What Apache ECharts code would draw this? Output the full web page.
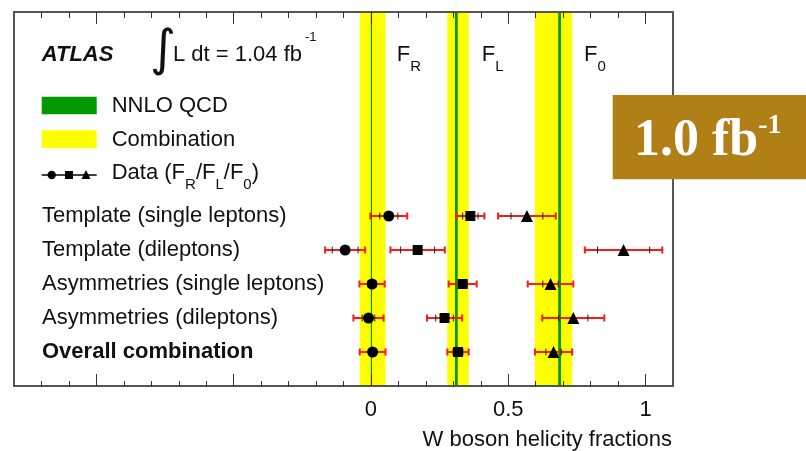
<!DOCTYPE html>
<html>
<head>
<meta charset="utf-8">
<script src="https://cdn.jsdelivr.net/npm/echarts@6/dist/echarts.min.js"></script>
<style>
  html, body { margin: 0; padding: 0; background: #fff; }
  #chart { width: 806px; height: 451px; }
</style>
</head>
<body>
<div id="chart"></div>
<script>
// Measurements of the W boson helicity fractions (ATLAS, 1.04 fb^-1)
const rowLabels = [
  'Template (single leptons)',
  'Template (dileptons)',
  'Asymmetries (single leptons)',
  'Asymmetries (dileptons)',
  'Overall combination'
];
const rowSlots = [5, 4, 3, 2, 1];

// F_R: value, statistical error, total error
const fR     = [0.065, -0.094, 0.004, -0.009, 0.006];
const fRStat = [0.033,  0.047, 0.015,  0.023, 0.012];
const fRTot  = [0.067,  0.073, 0.046,  0.055, 0.047];

// F_L
const fL     = [0.362, 0.170, 0.334, 0.268, 0.317];
const fLStat = [0.028, 0.062, 0.015, 0.032, 0.018];
const fLTot  = [0.051, 0.099, 0.051, 0.064, 0.039];

// F_0
const f0     = [0.568, 0.920, 0.654, 0.737, 0.665];
const f0Stat = [0.058, 0.095, 0.028, 0.053, 0.028];
const f0Tot  = [0.105, 0.141, 0.083, 0.113, 0.068];

// NNLO QCD predictions (F_R, F_L, F_0) and their uncertainties
const nnlo    = [0.0017, 0.311, 0.687];
const nnloErr = [0.0001, 0.005, 0.005];

// Axis ticks and labels
const majorTicks = [-1, -0.5, 0, 0.5, 1];
const minorTicks = [-1.2, -1.1, -0.9, -0.8, -0.7, -0.6, -0.4, -0.3, -0.2, -0.1,
                    0.1, 0.2, 0.3, 0.4, 0.6, 0.7, 0.8, 0.9];
const tickLabelValues = [0, 0.5, 1];
const tickLabels = ['0', '0.5', '1'];

const X_MIN = -1.3, X_MAX = 1.1, Y_MIN = 0, Y_MAX = 11;
const SANS = 'Liberation Sans, Arial, Helvetica, sans-serif';
const SERIF = 'Liberation Serif, Times New Roman, serif';
const INK = '#111';
const FRAME = '#555';

const combIdx = rowLabels.length - 1;
const bandData = [
  [fR[combIdx], fRTot[combIdx]],
  [fL[combIdx], fLTot[combIdx]],
  [f0[combIdx], f0Tot[combIdx]]
];
const nnloData = nnlo.map((v, i) => [v, nnloErr[i]]);

function points(vals, stat, tot) {
  return vals.map((v, i) => [v, rowSlots[i], stat[i], tot[i]]);
}

// Vertical band spanning the whole plot height
function renderBand(color, minPx) {
  return function (params, api) {
    const v = api.value(0), e = api.value(1);
    const p0 = api.coord([v - e, Y_MAX]);
    const p1 = api.coord([v + e, Y_MIN]);
    let w = p1[0] - p0[0];
    let x = p0[0];
    if (w < minPx) { x = (p0[0] + p1[0]) / 2 - minPx / 2; w = minPx; }
    return { type: 'rect', shape: { x: x, y: p0[1], width: w, height: p1[1] - p0[1] },
             style: { fill: color } };
  };
}

// Horizontal error bar: total error in red with caps, statistical part marked by black ticks
function renderErr(params, api) {
  const v = api.value(0), y = api.value(1), s = api.value(2), t = api.value(3);
  const a = api.coord([v - t, y]), b = api.coord([v + t, y]);
  const sa = api.coord([v - s, y]), sb = api.coord([v + s, y]);
  const red = { stroke: '#ff1a1a', lineWidth: 2 };
  const blk = { stroke: '#222', lineWidth: 1 };
  const h = 3.5;
  return {
    type: 'group',
    children: [
      { type: 'line', shape: { x1: a[0], y1: a[1], x2: b[0], y2: b[1] }, style: red },
      { type: 'line', shape: { x1: a[0], y1: a[1] - h, x2: a[0], y2: a[1] + h }, style: red },
      { type: 'line', shape: { x1: b[0], y1: b[1] - h, x2: b[0], y2: b[1] + h }, style: red },
      { type: 'line', shape: { x1: sa[0], y1: sa[1] - h, x2: sa[0], y2: sa[1] + h }, style: blk },
      { type: 'line', shape: { x1: sb[0], y1: sb[1] - h, x2: sb[0], y2: sb[1] + h }, style: blk }
    ]
  };
}

const gridBox = { left: 14, right: 133, top: 12, bottom: 64 };

function xAxisDef(gridIndex, position, ticks, len, withLine, withLabels) {
  return {
    type: 'value', gridIndex: gridIndex, position: position, min: X_MIN, max: X_MAX, z: 10,
    axisLine: { show: withLine, onZero: false, lineStyle: { color: FRAME, width: 2 } },
    axisTick: { show: true, inside: true, length: len, customValues: ticks,
                lineStyle: { color: '#333', width: 1 } },
    splitLine: { show: false },
    axisLabel: withLabels ? {
      show: true, customValues: tickLabelValues, margin: 13,
      formatter: v => tickLabels[tickLabelValues.indexOf(v)],
      fontFamily: SANS, fontSize: 22, color: INK
    } : { show: false },
    name: withLabels ? 'W boson helicity fractions' : '',
    nameLocation: 'end', nameGap: -1,
    nameTextStyle: { fontFamily: SANS, fontSize: 22, color: INK, align: 'right',
                     verticalAlign: 'top', padding: [43, 0, 0, 0] }
  };
}

function yAxisDef(gridIndex, position, withLine, withLabels) {
  return {
    type: 'value', gridIndex: gridIndex, position: position, min: Y_MIN, max: Y_MAX, z: 10,
    axisLine: { show: withLine, onZero: false, lineStyle: { color: FRAME, width: 2 } },
    axisTick: { show: false },
    splitLine: { show: false },
    axisLabel: withLabels ? {
      show: true, inside: true, margin: 28, customValues: rowSlots,
      formatter: v => {
        const i = rowSlots.indexOf(v);
        return i === combIdx ? '{b|' + rowLabels[i] + '}' : rowLabels[i];
      },
      fontFamily: SANS, fontSize: 22, color: INK,
      rich: { b: { fontFamily: SANS, fontSize: 22, fontWeight: 'bold', color: INK } }
    } : { show: false }
  };
}

const subRich = {
  m: { fontFamily: SANS, fontSize: 22, fill: INK, lineHeight: 30, verticalAlign: 'top' },
  s: { fontFamily: SANS, fontSize: 15, fill: INK, lineHeight: 15, verticalAlign: 'bottom' }
};

function subText(x, y, main, sub) {
  return { type: 'text', x: x, y: y, z: 20,
           style: { text: '{m|' + main + '}{s|' + sub + '}', rich: subRich,
                    align: 'left', verticalAlign: 'middle' } };
}

const markerStyle = { color: '#000', opacity: 1 };

const chart = echarts.init(document.getElementById('chart'), null, { renderer: 'canvas' });

chart.setOption({
  animation: false,
  backgroundColor: '#fff',
  grid: [Object.assign({}, gridBox), Object.assign({}, gridBox)],
  xAxis: [
    xAxisDef(0, 'bottom', majorTicks, 12, true, true),
    xAxisDef(0, 'top', majorTicks, 12, true, false),
    xAxisDef(1, 'bottom', minorTicks, 6, false, false),
    xAxisDef(1, 'top', minorTicks, 6, false, false)
  ],
  yAxis: [
    yAxisDef(0, 'left', true, true),
    yAxisDef(0, 'right', true, false),
    yAxisDef(1, 'left', false, false)
  ],
  series: [
    { name: 'Combination', type: 'custom', xAxisIndex: 0, yAxisIndex: 0, z: 1,
      renderItem: renderBand('#ffff00', 0), data: bandData, silent: true },
    { name: 'NNLO QCD', type: 'custom', xAxisIndex: 0, yAxisIndex: 0, z: 2,
      renderItem: renderBand('#009a00', 1.2), data: nnloData, silent: true },
    { name: 'F_R errors', type: 'custom', xAxisIndex: 0, yAxisIndex: 0, z: 3,
      renderItem: renderErr, data: points(fR, fRStat, fRTot) },
    { name: 'F_L errors', type: 'custom', xAxisIndex: 0, yAxisIndex: 0, z: 3,
      renderItem: renderErr, data: points(fL, fLStat, fLTot) },
    { name: 'F_0 errors', type: 'custom', xAxisIndex: 0, yAxisIndex: 0, z: 3,
      renderItem: renderErr, data: points(f0, f0Stat, f0Tot) },
    { name: 'F_R', type: 'scatter', xAxisIndex: 0, yAxisIndex: 0, z: 4,
      symbol: 'circle', symbolSize: 11, itemStyle: markerStyle,
      data: fR.map((v, i) => [v, rowSlots[i]]) },
    { name: 'F_L', type: 'scatter', xAxisIndex: 0, yAxisIndex: 0, z: 4,
      symbol: 'rect', symbolSize: 10, itemStyle: markerStyle,
      data: fL.map((v, i) => [v, rowSlots[i]]) },
    { name: 'F_0', type: 'scatter', xAxisIndex: 0, yAxisIndex: 0, z: 4,
      symbol: 'triangle', symbolSize: 12, itemStyle: markerStyle,
      data: f0.map((v, i) => [v, rowSlots[i]]) }
  ],
  graphic: [
    // Experiment tag and luminosity
    { type: 'text', x: 41.7, y: 55, z: 20,
      style: { text: 'ATLAS', fontFamily: SANS, fontSize: 22, fontWeight: 'bold',
               fontStyle: 'italic', fill: INK, align: 'left', verticalAlign: 'middle' } },
    { type: 'text', x: 150, y: 52, z: 20,
      style: { text: '\u222B', fontFamily: 'DejaVu Sans', fontSize: 50, fill: INK,
               align: 'left', verticalAlign: 'middle' } },
    { type: 'text', x: 173, y: 55, z: 20,
      style: { text: 'L dt = 1.04 fb', fontFamily: SANS, fontSize: 22, fill: INK,
               align: 'left', verticalAlign: 'middle' } },
    { type: 'text', x: 305, y: 37, z: 20,
      style: { text: '-1', fontFamily: SANS, fontSize: 13, fill: INK,
               align: 'left', verticalAlign: 'middle' } },

    // Column headers
    subText(396.7, 59, 'F', 'R'),
    subText(481.7, 59, 'F', 'L'),
    subText(584, 59, 'F', '0'),

    // Legend
    { type: 'rect', z: 20, shape: { x: 41.7, y: 96.7, width: 55, height: 17.5 },
      style: { fill: '#009a00' } },
    { type: 'text', x: 111.7, y: 106, z: 20,
      style: { text: 'NNLO QCD', fontFamily: SANS, fontSize: 22, fill: INK,
               align: 'left', verticalAlign: 'middle' } },
    { type: 'rect', z: 20, shape: { x: 41.7, y: 130.3, width: 55, height: 18 },
      style: { fill: '#ffff00' } },
    { type: 'text', x: 111.7, y: 140, z: 20,
      style: { text: 'Combination', fontFamily: SANS, fontSize: 22, fill: INK,
               align: 'left', verticalAlign: 'middle' } },
    { type: 'line', z: 20, shape: { x1: 41.7, y1: 175, x2: 96.7, y2: 175 },
      style: { stroke: '#000', lineWidth: 1.5 } },
    { type: 'circle', z: 21, shape: { cx: 51.7, cy: 175, r: 4.2 }, style: { fill: '#000' } },
    { type: 'rect', z: 21, shape: { x: 65, y: 171, width: 8, height: 8 }, style: { fill: '#000' } },
    { type: 'polygon', z: 21, shape: { points: [[86, 170], [90.5, 179], [81.5, 179]] },
      style: { fill: '#000' } },
    { type: 'text', x: 111.7, y: 177, z: 20,
      style: { text: '{m|Data (F}{s|R}{m|/F}{s|L}{m|/F}{s|0}{m|)}', rich: subRich,
               align: 'left', verticalAlign: 'middle' } },

    // Luminosity badge
    { type: 'rect', z: 50, shape: { x: 612.7, y: 95, width: 194, height: 84.3 },
      style: { fill: '#b07f15' } },
    { type: 'text', x: 634, y: 140, z: 51,
      style: { text: '{a|1.0 fb}{b|-1}', align: 'left', verticalAlign: 'middle',
               rich: {
                 a: { fontFamily: SERIF, fontSize: 52, fontWeight: 'bold', fill: '#fff',
                      lineHeight: 56, verticalAlign: 'bottom' },
                 b: { fontFamily: SERIF, fontSize: 28, fontWeight: 'bold', fill: '#fff',
                      lineHeight: 30, verticalAlign: 'top' }
               } } }
  ]
});
</script>
</body>
</html>
